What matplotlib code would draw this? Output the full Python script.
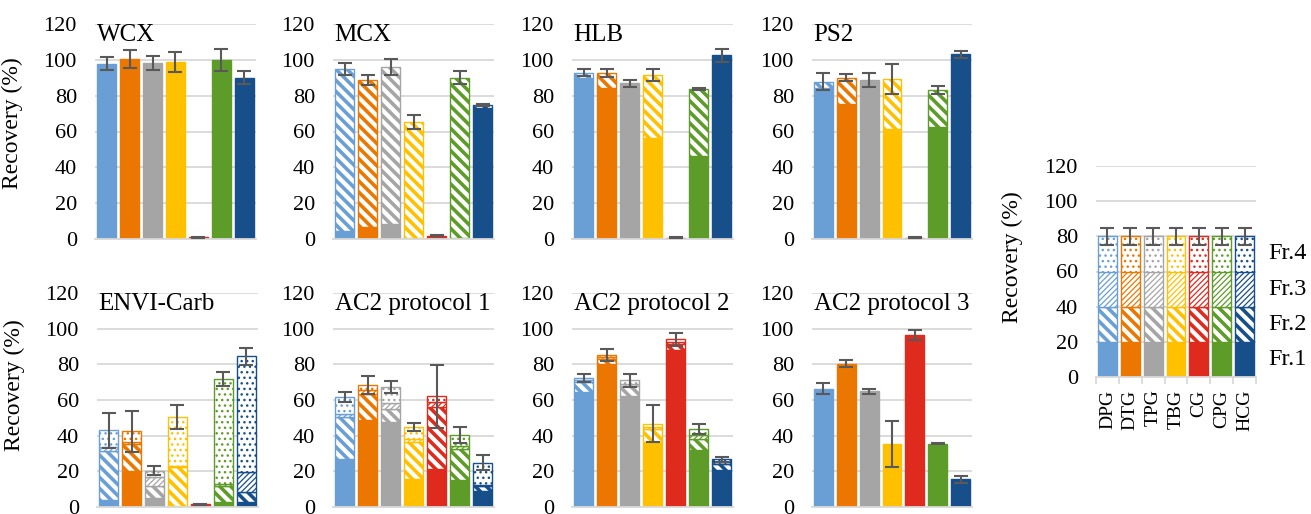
import numpy as np
import matplotlib
matplotlib.use("Agg")
import matplotlib.pyplot as plt

plt.rcParams['font.family'] = ['Liberation Serif', 'DejaVu Serif']

# samples and colours
samples = ['DPG', 'DTG', 'TPG', 'TBG', 'CG', 'CPG', 'HCG']
colors = ['#6A9FD6', '#EC7700', '#A5A5A5', '#FFC000', '#DF2B1E', '#5E9C2A', '#174F8A']
fractions = ['Fr.1', 'Fr.2', 'Fr.3', 'Fr.4']

# recovery (%) per fraction: [Fr.1, Fr.2, Fr.3, Fr.4], each over the 7 samples
wcx = [[97.8, 100.4, 98.2, 98.9, 1.0, 99.8, 90.1],
       [0, 0, 0, 0, 0, 0, 0], [0, 0, 0, 0, 0, 0, 0], [0, 0, 0, 0, 0, 0, 0]]
wcx_err = [3.7, 5.0, 4.0, 5.7, 0.3, 6.3, 3.5]

mcx = [[4.3, 6.7, 8.2, 0.5, 1.7, 0.5, 73.0],
       [90.5, 82.1, 87.9, 64.8, 0, 89.5, 1.6],
       [0, 0, 0, 0, 0, 0, 0], [0, 0, 0, 0, 0, 0, 0]]
mcx_err = [3.2, 3.0, 4.6, 3.7, 0.3, 3.6, 0.5]

hlb = [[90.0, 84.2, 87.0, 56.2, 0.8, 46.3, 102.5],
       [2.9, 8.4, 0, 35.4, 0, 37.3, 0],
       [0, 0, 0, 0, 0, 0, 0], [0, 0, 0, 0, 0, 0, 0]]
hlb_err = [2.0, 2.3, 2.0, 3.4, 0.3, 0.5, 3.6]

ps2 = [[84.5, 75.2, 89.0, 61.2, 0.8, 62.7, 103.2],
       [3.4, 14.9, 0, 28.2, 0, 20.5, 0],
       [0, 0, 0, 0, 0, 0, 0], [0, 0, 0, 0, 0, 0, 0]]
ps2_err = [5.0, 1.8, 3.9, 8.4, 0.3, 2.2, 2.0]

envi = [[4.0, 20.3, 4.8, 0.5, 1.5, 2.6, 2.6],
        [27.5, 14.9, 6.7, 21.7, 0, 9.0, 5.6],
        [2.0, 1.3, 5.5, 1.0, 0, 1.1, 11.2],
        [9.4, 6.0, 3.3, 27.1, 0, 59.1, 65.1]]
envi_err = [10.0, 11.5, 2.6, 6.7, 0.3, 3.8, 4.8]

ac2_p1 = [[27.1, 48.6, 47.7, 15.7, 21.3, 15.3, 9.0],
          [23.4, 14.6, 7.0, 20.7, 34.8, 17.2, 2.6],
          [1.8, 2.2, 3.5, 1.9, 2.8, 1.9, 0.5],
          [9.4, 2.8, 9.3, 6.6, 3.3, 6.0, 12.8]]
ac2_p1_err = [3.0, 5.0, 3.3, 2.1, 17.7, 4.3, 4.0]

ac2_p2 = [[64.5, 80.4, 62.1, 36.4, 87.9, 31.8, 20.6],
          [5.5, 2.8, 5.6, 7.5, 3.7, 6.5, 3.7],
          [1.0, 0.8, 1.5, 1.0, 1.0, 2.0, 1.0],
          [1.5, 1.0, 1.8, 1.8, 1.4, 3.3, 1.4]]
ac2_p2_err = [2.2, 3.4, 3.7, 10.5, 3.7, 2.7, 1.4]

ac2_p3 = [[66.4, 80.4, 64.9, 35.1, 96.3, 35.5, 15.5],
          [0, 0, 0, 0, 0, 0, 0], [0, 0, 0, 0, 0, 0, 0], [0, 0, 0, 0, 0, 0, 0]]
ac2_p3_err = [3.0, 1.8, 1.4, 12.9, 2.7, 0.3, 2.1]

key = [[20] * 7, [20] * 7, [20] * 7, [20] * 7]
key_err = [5] * 7

hatches = [None, '\\\\\\', '//////', '...']
hatch_lw = [1.0, 2.6, 0.9, 1.0]

W, H = 1311, 514
fig = plt.figure(figsize=(W / 100, H / 100), dpi=100)


def add_ax(x0, x1, ytop, ybot):
    return fig.add_axes([x0 / W, 1 - ybot / H, (x1 - x0) / W, (ybot - ytop) / H])


def draw(ax, fracs, err, title=None):
    x = np.arange(len(samples))
    bottom = np.zeros(len(samples))
    for k, vals in enumerate(fracs):
        for i, v in enumerate(vals):
            if v <= 0:
                continue
            fc = colors[i] if k == 0 else 'white'
            with plt.rc_context({'hatch.linewidth': hatch_lw[k]}):
                bars = ax.bar(x[i], v, width=0.82, bottom=bottom[i], color=fc,
                              edgecolor=colors[i], linewidth=1.0, hatch=hatches[k], zorder=2)
            for p in bars:
                if hasattr(p, 'set_hatch_linewidth'):
                    p.set_hatch_linewidth(hatch_lw[k])
        bottom += np.array(vals, dtype=float)
    ax.errorbar(x, bottom, yerr=err, fmt='none', ecolor='#595959',
                elinewidth=1.5, capsize=4.7, capthick=1.5, zorder=3)
    ax.set_xlim(-0.5, len(samples) - 0.5)
    ax.set_ylim(0, 120)
    ax.set_yticks(range(0, 121, 20))
    ax.grid(axis='y', color='#D9D9D9', linewidth=1.3, zorder=0)
    ax.set_axisbelow(True)
    for s in ['top', 'right', 'left']:
        ax.spines[s].set_visible(False)
    ax.spines['bottom'].set_color('#D9D9D9')
    ax.spines['bottom'].set_linewidth(1.3)
    ax.tick_params(axis='y', length=0, pad=13, labelsize=16)
    ax.tick_params(axis='x', length=0, labelbottom=False)
    if title:
        ax.text(0.01, 1.0, title, transform=ax.transAxes, fontsize=18, va='top', ha='left')


top_x = [(95, 256), (333, 494), (572, 733), (812, 972)]
bot_x = [(97, 258), (333, 494), (572, 733), (812, 972)]

top_data = [(wcx, wcx_err, 'WCX'), (mcx, mcx_err, 'MCX'),
            (hlb, hlb_err, 'HLB'), (ps2, ps2_err, 'PS2')]
bot_data = [(envi, envi_err, 'ENVI-Carb'), (ac2_p1, ac2_p1_err, 'AC2 protocol 1'),
            (ac2_p2, ac2_p2_err, 'AC2 protocol 2'), (ac2_p3, ac2_p3_err, 'AC2 protocol 3')]

for (x0, x1), (d, e, t) in zip(top_x, top_data):
    ax = add_ax(x0, x1, 24, 239)
    draw(ax, d, e, t)
    if x0 == 95:
        ax.set_ylabel('Recovery (%)', fontsize=17)
        ax.yaxis.set_label_coords(-0.447, 0.54)

for (x0, x1), (d, e, t) in zip(bot_x, bot_data):
    ax = add_ax(x0, x1, 293, 507)
    draw(ax, d, e, t)
    if x0 == 97:
        ax.set_ylabel('Recovery (%)', fontsize=17)
        ax.yaxis.set_label_coords(-0.447, 0.57)

# key panel
ax = add_ax(1096, 1256, 166, 377)
draw(ax, key, key_err)
ax.set_ylabel('Recovery (%)', fontsize=17)
ax.yaxis.set_label_coords(-0.456, 0.57)
ax.set_xticks(np.arange(len(samples)))
ax.set_xticklabels(samples, rotation=90, fontsize=14)
ax.tick_params(axis='x', labelbottom=True, pad=9)
ax.set_xticks(np.arange(-0.5, len(samples)), minor=True)
ax.tick_params(axis='x', which='minor', length=5, color='#D9D9D9', width=1.3)
ybase = 0
for name, vals in zip(fractions, key):
    ax.text(1.075, (ybase + vals[0] / 2) / 120, name, transform=ax.transAxes,
            fontsize=17.5, va='center', ha='left')
    ybase += vals[0]

fig.savefig('out.png', dpi=100)
